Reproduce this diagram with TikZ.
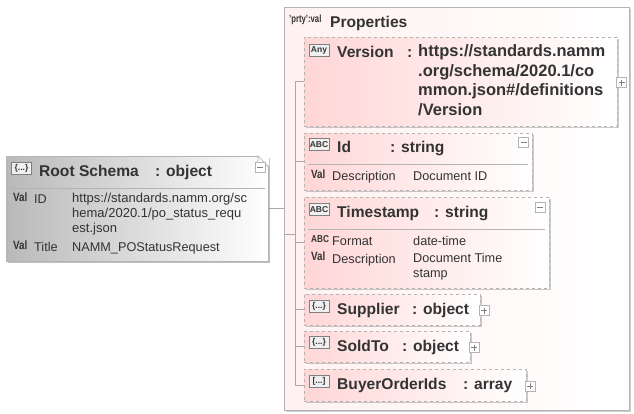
\documentclass[tikz,border=0pt]{standalone}
\usepackage{fontspec}
\setmainfont{Liberation Sans}
\usetikzlibrary{shadows}
\definecolor{inkc}{HTML}{333333}
\definecolor{edgec}{HTML}{B4B4B4}
\definecolor{linec}{HTML}{A8A8A8}
\definecolor{pinkc}{HTML}{FFD6D6}
\newcommand{\urlfont}{\fontsize{13}{14.6}\selectfont}
\tikzset{
	part/.style={draw=edgec,dashed,line width=1pt,anchor=north west,inner sep=0,outer sep=0,left color=pinkc,middle color=pinkc!30,right color=white,
		drop shadow={shadow xshift=1.5pt,shadow yshift=-1.5pt,opacity=.2,fill=black}},
	head/.style={anchor=base west,inner sep=0,text=inkc,font=\fontsize{15.6}{19.4}\selectfont\bfseries,align=left},
	info/.style={anchor=base west,inner sep=0,text=inkc,font=\fontsize{12.7}{14.6}\selectfont,align=left},
	tag/.style={anchor=base west,inner sep=0,text=inkc,xscale=.82,transform shape,font=\fontsize{12}{12}\selectfont\bfseries},
	icon/.style={draw=gray,fill=gray!12,inner sep=0,outer sep=0,minimum width=20pt,minimum height=12pt,text=inkc,font=\fontsize{8.5}{8.5}\selectfont\bfseries},
	toggle/.style={draw=edgec,fill=white,line width=.7pt,inner sep=0,outer sep=0,minimum size=10pt},
	minusbox/.style={toggle,path picture={\draw[gray] ([xshift=2pt]path picture bounding box.west) -- ([xshift=-2pt]path picture bounding box.east);}},
	plusbox/.style={toggle,path picture={
		\draw[gray] ([xshift=2pt]path picture bounding box.west) -- ([xshift=-2pt]path picture bounding box.east);
		\draw[gray] ([yshift=-2pt]path picture bounding box.north) -- ([yshift=2pt]path picture bounding box.south);}},
	rule/.style={draw=edgec,line width=1pt},
	link/.style={draw=linec,line width=.7pt}
}
\begin{document}
\begin{tikzpicture}[x=1pt,y=-1pt]
	\useasboundingbox (0,0) rectangle (634,413);
	% outer boxes
	\node[anchor=north west,draw=edgec,line width=1pt,inner sep=0,outer sep=0,minimum width=345pt,minimum height=403pt,left color=pinkc!35,middle color=pinkc!12,right color=white,
		drop shadow={shadow xshift=1.5pt,shadow yshift=-1.5pt,opacity=.2,fill=black}] (props) at (284,7) {};
	\node[anchor=north west,draw=edgec,line width=1pt,inner sep=0,outer sep=0,minimum width=262pt,minimum height=105pt,left color=gray!55,middle color=gray!25,right color=white,
		drop shadow={shadow xshift=2pt,shadow yshift=-2pt,opacity=.25,fill=black}] (root) at (6,156) {};
	\fill[white] (258,155) -- (269,155) -- (269,166) -- cycle;
	\draw[edgec,line width=.7pt] (258,156) -- (268,166) -- (258,166) -- cycle;
	% children
	\node[part,minimum width=313pt,minimum height=89pt] (version) at (304,37) {};
	\node[part,minimum width=228pt,minimum height=57pt] (id) at (304,133) {};
	\node[part,minimum width=245pt,minimum height=91pt] (timestamp) at (304,197) {};
	\node[part,minimum width=176pt,minimum height=31pt] (supplier) at (304,294) {};
	\node[part,minimum width=166pt,minimum height=31pt] (soldto) at (304,331) {};
	\node[part,minimum width=222pt,minimum height=32pt] (buyer) at (304,369) {};
	% connectors
	\coordinate (spine) at (295,234);
	\coordinate (spinetop) at (295,81);
	\coordinate (spineend) at (295,385);
	\draw[link] (root) -- (props);
	\draw[link] (props.west |- spine) -- (spine);
	\draw[link] (spinetop) -- (spineend);
	\foreach \n in {version,id,timestamp,supplier,soldto,buyer}{
		\draw[link] (spine |- \n.west) -- (\n.west);
	}
	% root
	\node[icon] (rooticon) at (21.5,168) {\{...\}};
	\node[head] (roottitle) at (39,176) {Root Schema};
	\node[head] (roottype) at (155,176) {: object};
	\node[minusbox] (roottoggle) at (260,167.5) {};
	\draw[rule] (10,188) -- (265,188);
	\node[tag] (rootvala) at (13,201) {Val};
	\node[info] (rootid) at (34,203) {ID};
	\node[info] (rooturl) at (72,232) {\urlfont https://standards.namm.org/sc\\\urlfont hema/2020.1/po\_status\_requ\\\urlfont est.json};
	\node[tag] (rootvalb) at (13,249) {Val};
	\node[info] (roottitlekey) at (34,251) {Title};
	\node[info] (roottitleval) at (72,251) {NAMM\_POStatusRequest};
	% properties
	\node[tag,xscale=.9,font=\fontsize{10.5}{10.5}\selectfont\bfseries] (prtytag) at (289,22) {'prty':val};
	\node[head] (propstitle) at (330,27) {Properties};
	% version
	\node[icon] (versionicon) at (319,50.5) {Any};
	\node[head] (versiontitle) at (337,57) {Version};
	\node[head] (versioncolon) at (407,57) {:};
	\node[head,font=\fontsize{16.5}{19.4}\selectfont\bfseries] (versiontype) at (418,115) {https://standards.namm\\.org/schema/2020.1/co\\mmon.json\#/definitions\\/Version};
	\node[plusbox] (versiontoggle) at (621.5,82.5) {};
	% id
	\node[icon] (idicon) at (319,144.5) {ABC};
	\node[head] (idtitle) at (337,152) {Id};
	\node[head] (idtype) at (390,152) {: string};
	\node[minusbox] (idtoggle) at (523.5,142) {};
	\draw[rule] (308,164) -- (528,164);
	\node[tag] (idval) at (311,178) {Val};
	\node[info] (idkey) at (332,180) {Description};
	\node[info] (idtext) at (413,180) {Document ID};
	% timestamp
	\node[icon] (timeicon) at (319,209.5) {ABC};
	\node[head] (timetitle) at (337,217) {Timestamp};
	\node[head] (timetype) at (434,217) {: string};
	\node[minusbox] (timetoggle) at (540,207.5) {};
	\draw[rule] (308,229) -- (545,229);
	\node[tag,font=\fontsize{10}{10}\selectfont\bfseries] (timeabc) at (311,242) {ABC};
	\node[info] (timekeya) at (332,245) {Format};
	\node[info] (timetexta) at (413,245) {date-time};
	\node[tag] (timeval) at (311,260) {Val};
	\node[info] (timekeyb) at (332,263) {Description};
	\node[info] (timetextb) at (413,277) {Document Time\\stamp};
	% closed ones
	\node[icon] (suppliericon) at (319,306) {\{...\}};
	\node[head] (suppliertitle) at (337,314) {Supplier};
	\node[head] (suppliertype) at (412,314) {: object};
	\node[plusbox] (suppliertoggle) at (484,310.5) {};
	\node[icon] (soldtoicon) at (319,342.5) {\{...\}};
	\node[head] (soldtotitle) at (337,351) {SoldTo};
	\node[head] (soldtotype) at (402,351) {: object};
	\node[plusbox] (soldtotoggle) at (474,347.5) {};
	\node[icon] (buyericon) at (319,381.5) {[...]};
	\node[head] (buyertitle) at (337,389) {BuyerOrderIds};
	\node[head] (buyertype) at (463,389) {: array};
	\node[plusbox] (buyertoggle) at (530,386) {};
\end{tikzpicture}
\end{document}
